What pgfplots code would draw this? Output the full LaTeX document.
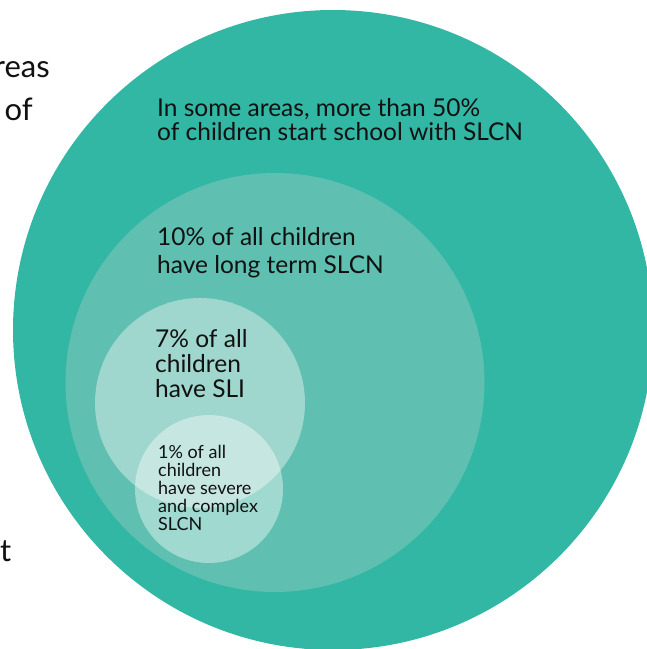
\documentclass[border=0pt]{standalone}
\usepackage{pgfplots}
\pgfplotsset{compat=1.18}
\usepackage{fontspec}
\setmainfont{Lato}
\definecolor{bigc}{HTML}{32B7A5}
\definecolor{midc}{HTML}{5FC0B1}
\definecolor{slic}{HTML}{9FD6CD}
\definecolor{txt}{HTML}{111111}
\begin{document}
\begin{tikzpicture}
\begin{axis}[
  width=647pt, height=649pt, scale only axis,
  xmin=0, xmax=647, ymin=0, ymax=649, y dir=reverse,
  hide axis, clip marker paths=true,
]
% circles: centre (px) and radius (px = pt)
\addplot[only marks, mark=*, mark size=320, color=bigc, mark options={fill=bigc, draw opacity=0}] coordinates {(333,330)};
\addplot[only marks, mark=*, mark size=209.5, color=midc, mark options={fill=midc, draw opacity=0}] coordinates {(275,382.5)};
\addplot[only marks, mark=*, mark size=105, color=slic, mark options={fill=slic, draw opacity=0}] coordinates {(200,403)};
\addplot[only marks, mark=*, mark size=74, color=white, mark options={fill=white, fill opacity=0.4, draw opacity=0}] coordinates {(209,489)};

\tikzset{lab/.style={inner sep=0pt, text=txt, font=\fontsize{24.5}{28}\selectfont}}
\node[lab, anchor=base west] at (axis cs:157,116) {In some areas, more than 50\%};
\node[lab, anchor=base west] at (axis cs:157,140) {of children start school with SLCN};
\node[lab, anchor=base west] at (axis cs:157,245) {10\% of all children};
\node[lab, anchor=base west] at (axis cs:157,273) {have long term SLCN};
\node[lab, anchor=base west] at (axis cs:155,347) {7\% of all};
\node[lab, anchor=base west] at (axis cs:155,372) {children};
\node[lab, anchor=base west] at (axis cs:155,397) {have SLI};
\tikzset{sm/.style={inner sep=0pt, text=txt, font=\fontsize{18}{18}\selectfont, anchor=base west}}
\node[sm] at (axis cs:158,458) {1\% of all};
\node[sm] at (axis cs:158,476) {children};
\node[sm] at (axis cs:158,494) {have severe};
\node[sm] at (axis cs:158,512) {and complex};
\node[sm] at (axis cs:158,530) {SLCN};
\tikzset{big/.style={inner sep=0pt, text=txt, font=\fontsize{31}{36}\selectfont}}
\node[big, anchor=base east] at (axis cs:50,77) {reas};
\node[big, anchor=base east] at (axis cs:33,120) {of};
\node[big, anchor=base west] at (axis cs:0,561) {t};
\end{axis}
\pgfresetboundingbox
\useasboundingbox (current axis.south west) rectangle (current axis.north east);
\end{tikzpicture}
\end{document}
